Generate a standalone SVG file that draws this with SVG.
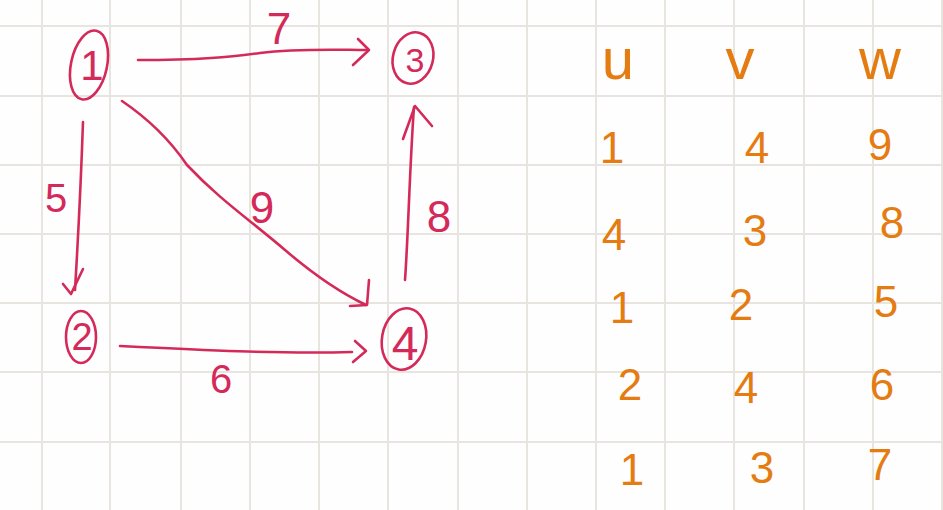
<svg xmlns="http://www.w3.org/2000/svg" width="943" height="510" viewBox="0 0 943 510">
<style>
.grid line{stroke:#e8e4e0;stroke-width:2}
.node ellipse{fill:none;stroke:#d42a5a;stroke-width:2.6}
.lbl{font-family:"Liberation Sans",Arial,sans-serif;fill:#d42a5a;text-anchor:middle}
.edge{fill:none;stroke:#d42a5a;stroke-width:2.6;stroke-linecap:round;stroke-linejoin:round}
.tab{font-family:"Liberation Sans",Arial,sans-serif;fill:#e47c12;text-anchor:middle;font-size:44px}
.hd{font-family:"Liberation Sans",Arial,sans-serif;fill:#e47c12;text-anchor:middle;font-size:58px}
</style>
<rect width="943" height="510" fill="#fefefe"/>
<g class="grid">
<line x1="42" y1="0" x2="42" y2="510"/><line x1="110" y1="0" x2="110" y2="510"/><line x1="181" y1="0" x2="181" y2="510"/><line x1="250" y1="0" x2="250" y2="510"/><line x1="319" y1="0" x2="319" y2="510"/><line x1="388" y1="0" x2="388" y2="510"/><line x1="458" y1="0" x2="458" y2="510"/><line x1="527" y1="0" x2="527" y2="510"/><line x1="596" y1="0" x2="596" y2="510"/><line x1="665" y1="0" x2="665" y2="510"/><line x1="734" y1="0" x2="734" y2="510"/><line x1="804" y1="0" x2="804" y2="510"/><line x1="873" y1="0" x2="873" y2="510"/><line x1="942" y1="0" x2="942" y2="510"/>
<line x1="0" y1="26" x2="943" y2="26"/><line x1="0" y1="96" x2="943" y2="96"/><line x1="0" y1="165" x2="943" y2="165"/><line x1="0" y1="234" x2="943" y2="234"/><line x1="0" y1="303" x2="943" y2="303"/><line x1="0" y1="372" x2="943" y2="372"/><line x1="0" y1="442" x2="943" y2="442"/>
</g>
<g id="connectors">
<path class="edge" d="M138 60 C200 60 230 57 260 53 C300 48 340 50 368 50"/>
<path class="edge" d="M358 39 L369 50 L353 65"/>
<text class="lbl" x="279" y="44" font-size="44">7</text>
<path class="edge" d="M83 122 C81 180 78 240 75 290"/>
<path class="edge" d="M63 284 L71 294 L83 269"/>
<text class="lbl" x="56" y="212" font-size="40">5</text>
<path class="edge" d="M122 101 C150 120 170 140 187 165 C220 200 250 220 285 250 C320 280 345 295 366 305"/>
<path class="edge" d="M350 306 L367 305 L369 280"/>
<text class="lbl" x="262" y="223" font-size="44">9</text>
<path class="edge" d="M405 280 C408 240 410 160 414 107"/>
<path class="edge" d="M403 139 L415 106 L432 126"/>
<text class="lbl" x="439" y="232" font-size="44">8</text>
<path class="edge" d="M120 346 C200 350 280 354 352 352"/>
<path class="edge" d="M355 341 L366 351 L353 362"/>
<text class="lbl" x="221" y="393" font-size="40">6</text>
</g>
<g id="node1" class="node"><ellipse cx="89" cy="65" rx="18" ry="35" transform="rotate(12 89 65)"/><text class="lbl" x="92" y="80" font-size="42">1</text></g>
<g id="node3" class="node"><ellipse cx="413" cy="58" rx="20" ry="26" transform="rotate(15 413 58)"/><text class="lbl" x="415" y="72" font-size="34">3</text></g>
<g id="node2" class="node"><ellipse cx="81" cy="337" rx="15" ry="26"/><text class="lbl" x="82" y="350" font-size="38">2</text></g>
<g id="node4" class="node"><ellipse cx="404" cy="339" rx="22" ry="31" transform="rotate(10 404 339)"/><text class="lbl" x="405" y="360" font-size="48">4</text></g>
<g id="table">
<text class="hd" x="618" y="79">u</text><text class="hd" x="740" y="79">v</text><text class="hd" x="880" y="79">w</text>
<text class="tab" x="612" y="163">1</text><text class="tab" x="757" y="163">4</text><text class="tab" x="880" y="160">9</text>
<text class="tab" x="614" y="250">4</text><text class="tab" x="755" y="246">3</text><text class="tab" x="892" y="238">8</text>
<text class="tab" x="622" y="323">1</text><text class="tab" x="741" y="320">2</text><text class="tab" x="886" y="317">5</text>
<text class="tab" x="630" y="400">2</text><text class="tab" x="746" y="403">4</text><text class="tab" x="882" y="400">6</text>
<text class="tab" x="632" y="485">1</text><text class="tab" x="762" y="483">3</text><text class="tab" x="880" y="480">7</text>
</g>
</svg>
